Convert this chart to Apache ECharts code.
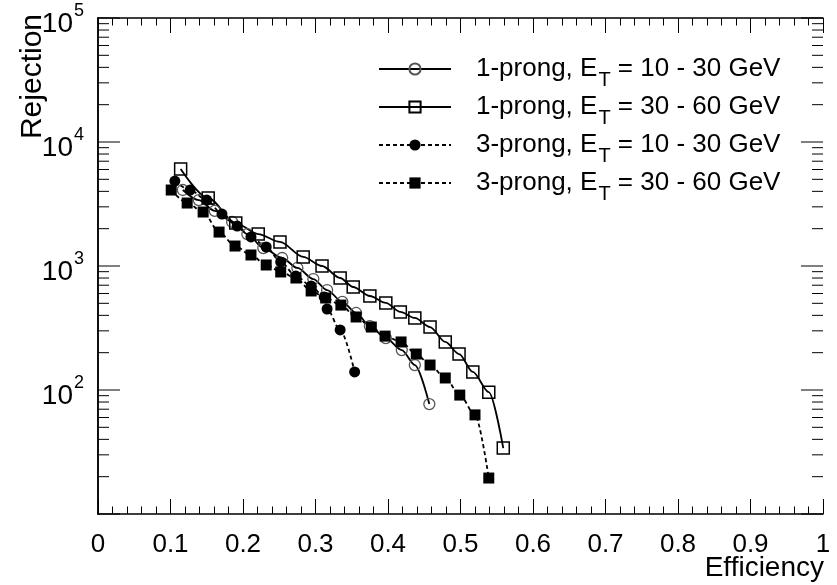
<!DOCTYPE html>
<html><head><meta charset="utf-8">
<script src="https://cdn.jsdelivr.net/npm/echarts@6/dist/echarts.min.js"></script>
<style>html,body{margin:0;padding:0;background:#fff}#c{width:837px;height:585px}</style>
</head><body><div id="c"></div>
<script>
// ---- data ----
const seriesNames = ['1-prong, E_T = 10 - 30 GeV', '1-prong, E_T = 30 - 60 GeV', '3-prong, E_T = 10 - 30 GeV', '3-prong, E_T = 30 - 60 GeV'];

const eff1p1030 = [0.117,0.139,0.161,0.185,0.206,0.228,0.254,0.275,0.297,0.316,0.337,0.356,0.375,0.397,0.419,0.437,0.457];
const rej1p1030 = [4100,3400,2780,2265,1810,1396,1160,964,785,640,513,418,328,262,210,159,77];

const eff1p3060 = [0.114,0.152,0.190,0.221,0.251,0.283,0.309,0.334,0.352,0.375,0.397,0.417,0.437,0.458,0.479,0.498,0.517,0.539,0.559];
const rej1p3060 = [6050,3530,2220,1810,1563,1183,1000,800,677,573,504,426,381,322,244,195,140,96,34];

const eff3p1030 = [0.106,0.127,0.150,0.171,0.192,0.211,0.232,0.252,0.273,0.294,0.312,0.316,0.334,0.354];
const rej3p1030 = [4840,4100,3400,2625,2100,1715,1423,1077,830,690,562,450,305,140];

const eff3p3060 = [0.101,0.123,0.145,0.167,0.189,0.211,0.232,0.252,0.273,0.294,0.314,0.335,0.356,0.377,0.396,0.418,0.439,0.458,0.479,0.499,0.520,0.539];
const rej3p3060 = [4100,3220,2725,1878,1449,1227,1019,895,800,629,552,484,388,322,272,244,195,159,125,91,63,19.5];

const xTickLabels = ['0','0.1','0.2','0.3','0.4','0.5','0.6','0.7','0.8','0.9','1'];
const yTickValues = [10, 100, 1000, 10000, 100000];
const yTickExponents = ['', '2', '3', '4', '5'];
const yMinorTicks = [];
for (let d = 10; d < 100000; d *= 10) for (let m = 2; m <= 9; m++) yMinorTicks.push(m * d);

// ---- chart ----
const FONT = 'Liberation Sans, Arial, Helvetica, sans-serif';
const chart = echarts.init(document.getElementById('c'), null, {renderer: 'canvas'});
const zip = (xs, ys) => xs.map((x, i) => [x, ys[i]]);

function legendText(name) {
  const parts = name.split('E_T');
  return '{f|' + parts[0] + 'E}{s|T}{a|' + parts[1] + '}';
}

const axisCommon = {
  axisLine: {show: true, lineStyle: {color: '#000', width: 1.5}},
  splitLine: {show: false}
};

// y ticks (major + minor) drawn through the log axis scale
const yTickData = yTickValues.map(v => [0, v, 22]).concat(yMinorTicks.map(v => [0, v, 11]));

const option = {
  backgroundColor: '#fff',
  animation: false,
  grid: {left: 98, right: 14, top: 18, bottom: 71, containLabel: false},
  xAxis: [
    Object.assign({}, axisCommon, {
      type: 'value', min: 0, max: 1, interval: 0.1, position: 'bottom',
      axisTick: {show: true, inside: true, length: 15, lineStyle: {color: '#000', width: 1}},
      minorTick: {show: true, splitNumber: 5, length: 7.5, lineStyle: {color: '#000', width: 1}},
      axisLabel: {
        show: true, margin: 18, color: '#000', fontFamily: FONT, fontSize: 26,
        formatter: v => xTickLabels[Math.round(v * 10)]
      }
    }),
    Object.assign({}, axisCommon, {
      type: 'value', min: 0, max: 1, interval: 0.1, position: 'top',
      axisTick: {show: true, inside: true, length: 15, lineStyle: {color: '#000', width: 1}},
      minorTick: {show: true, splitNumber: 5, length: 7.5, lineStyle: {color: '#000', width: 1}},
      axisLabel: {show: false}
    })
  ],
  yAxis: [
    Object.assign({}, axisCommon, {
      type: 'log', logBase: 10, min: 10, max: 100000, position: 'left',
      axisTick: {show: false},
      axisLabel: {
        show: true, margin: 14, color: '#000', fontFamily: FONT,
        formatter: v => {
          const i = yTickValues.findIndex(t => Math.abs(Math.log10(t) - Math.log10(v)) < 1e-6);
          if (i <= 0) return '';
          return '{b|10}{e|' + yTickExponents[i] + '}';
        },
        rich: {
          b: {fontSize: 28, fontFamily: FONT, color: '#000', padding: [12, 0, 0, 0]},
          e: {fontSize: 18, fontFamily: FONT, color: '#000', padding: [0, 0, 14, 1]}
        }
      }
    }),
    Object.assign({}, axisCommon, {
      type: 'log', logBase: 10, min: 10, max: 100000, position: 'right',
      axisTick: {show: false},
      axisLabel: {show: false}
    })
  ],
  legend: {
    data: seriesNames,
    orient: 'vertical',
    left: 378, top: 56, padding: 0,
    itemWidth: 72, itemHeight: 14, itemGap: 4,
    selectedMode: false,
    formatter: legendText,
    textStyle: {
      color: '#000', fontFamily: FONT, fontSize: 26,
      rich: {
        f: {fontSize: 26, fontFamily: FONT, color: '#000', padding: [0, 0, 0, 20]},
        a: {fontSize: 26, fontFamily: FONT, color: '#000'},
        s: {fontSize: 20, fontFamily: FONT, color: '#000', padding: [22, 0, 0, 1]}
      }
    }
  },
  graphic: [
    {type: 'text', x: 33, y: 14, rotation: Math.PI / 2, silent: true,
     style: {text: 'Rejection', font: '30px ' + FONT, fill: '#000', textAlign: 'right', textVerticalAlign: 'middle'}},
    {type: 'text', x: 824, y: 568, silent: true,
     style: {text: 'Efficiency', font: '28px ' + FONT, fill: '#000', textAlign: 'right', textVerticalAlign: 'middle'}}
  ],
  series: [
    {
      name: seriesNames[0], type: 'line', data: zip(eff1p1030, rej1p1030),
      smooth: 0.3, smoothMonotone: 'x',
      symbol: 'circle', symbolSize: 11,
      lineStyle: {color: '#000', width: 1.8, type: 'solid'},
      itemStyle: {color: 'rgba(255,255,255,0)', borderColor: '#555', borderWidth: 1.3}
    },
    {
      name: seriesNames[1], type: 'line', data: zip(eff1p3060, rej1p3060),
      smooth: 0.3, smoothMonotone: 'x',
      symbol: 'rect', symbolSize: 12,
      lineStyle: {color: '#000', width: 1.8, type: 'solid'},
      itemStyle: {color: 'rgba(255,255,255,0)', borderColor: '#000', borderWidth: 1.5}
    },
    {
      name: seriesNames[2], type: 'line', data: zip(eff3p1030, rej3p1030),
      smooth: 0.3, smoothMonotone: 'x',
      symbol: 'circle', symbolSize: 11,
      lineStyle: {color: '#000', width: 1.8, type: [4, 3]},
      itemStyle: {color: '#000', borderWidth: 0}
    },
    {
      name: seriesNames[3], type: 'line', data: zip(eff3p3060, rej3p3060),
      smooth: 0.3, smoothMonotone: 'x',
      symbol: 'rect', symbolSize: 11,
      lineStyle: {color: '#000', width: 1.8, type: [4, 3]},
      itemStyle: {color: '#000', borderWidth: 0}
    },
    {
      type: 'custom', xAxisIndex: 0, yAxisIndex: 0, silent: true, clip: false,
      data: yTickData,
      renderItem: function (params, api) {
        const p = api.coord([0, api.value(1)]);
        const cs = params.coordSys;
        const len = api.value(2);
        return {
          type: 'group', children: [
            {type: 'line', shape: {x1: cs.x, y1: p[1], x2: cs.x + len, y2: p[1]}, style: {stroke: '#000', lineWidth: 1}},
            {type: 'line', shape: {x1: cs.x + cs.width, y1: p[1], x2: cs.x + cs.width - len, y2: p[1]}, style: {stroke: '#000', lineWidth: 1}}
          ]
        };
      }
    }
  ]
};
chart.setOption(option);
</script>
</body></html>
